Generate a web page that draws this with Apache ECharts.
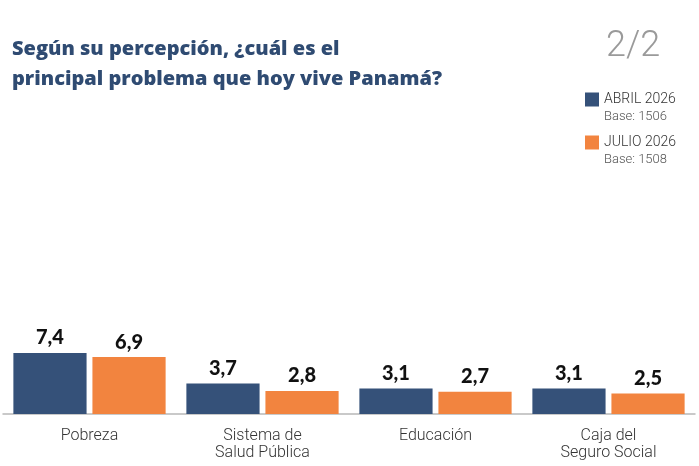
<!DOCTYPE html>
<html>
<head>
<meta charset="utf-8">
<script src="https://cdn.jsdelivr.net/npm/echarts@6/dist/echarts.min.js"></script>
<style>
    html, body { margin: 0; padding: 0; background: #fff; }
    #chart { width: 699px; height: 466px; }
</style>
</head>
<body>
<div id="chart"></div>
<script>
// datos del gráfico
const categorias = ['Pobreza', 'Sistema de\nSalud Pública', 'Educación', 'Caja del\nSeguro Social']
const abril = [7.4, 3.7, 3.1, 3.1]
const julio = [6.9, 2.8, 2.7, 2.5]
const serieAbril = 'ABRIL 2026'
const serieJulio = 'JULIO 2026'
const bases = { 'ABRIL 2026': 'Base: 1506', 'JULIO 2026': 'Base: 1508' }

let myChart = echarts.init(document.getElementById('chart'))

// etiqueta con coma decimal
const etiqueta = {
    show: true,
    position: 'top',
    distance: 5,
    fontFamily: 'Lato',
    fontWeight: 900,
    fontSize: 20,
    color: '#111',
    formatter: p => String(p.value).replace('.', ',')
}

myChart.setOption({
    animation: false,
    title: [{
        text: 'Según su percepción, ¿cuál es el\nprincipal problema que hoy vive Panamá?',
        left: 12,
        top: 34,
        padding: 0,
        textStyle: {
            fontFamily: 'Open Sans',
            fontWeight: 800,
            fontSize: 20,
            lineHeight: 30,
            color: '#2f4b72'
        }
    }, {
        text: '2/2',
        left: 606,
        top: 29,
        padding: 0,
        textStyle: {
            fontFamily: 'Roboto',
            fontWeight: 300,
            fontSize: 36,
            color: '#9a9a9a'
        }
    }],
    legend: {
        orient: 'vertical',
        left: 585,
        top: 74,
        padding: 0,
        itemWidth: 14,
        itemHeight: 14,
        itemGap: -8,
        icon: 'rect',
        data: [serieAbril, serieJulio],
        formatter: name => name + '\n{b|' + bases[name] + '}',
        textStyle: {
            fontFamily: 'Roboto',
            fontWeight: 300,
            fontSize: 14,
            color: '#333',
            lineHeight: 17,
            padding: [17, 0, 0, 0],
            rich: {
                b: { fontFamily: 'Roboto', fontWeight: 300, fontSize: 13, color: '#555', lineHeight: 17 }
            }
        }
    },
    grid: {
        left: 3,
        right: 4,
        top: 331.5,
        bottom: 52
    },
    xAxis: {
        type: 'category',
        data: categorias,
        axisTick: { show: false },
        axisLine: { lineStyle: { color: '#b8b8b8', width: 1.5 } },
        axisLabel: {
            margin: 13,
            verticalAlign: 'top',
            fontFamily: 'Roboto',
            fontWeight: 300,
            fontSize: 16,
            lineHeight: 17,
            color: '#333'
        }
    },
    yAxis: {
        type: 'value',
        min: 0,
        max: 10,
        show: false
    },
    series: [{
        name: serieAbril,
        type: 'bar',
        data: abril,
        barGap: '8%',
        barCategoryGap: '12%',
        itemStyle: { color: '#355179' },
        label: etiqueta
    }, {
        name: serieJulio,
        type: 'bar',
        data: julio,
        itemStyle: { color: '#f2843f' },
        label: etiqueta
    }]
})
</script>
</body>
</html>
